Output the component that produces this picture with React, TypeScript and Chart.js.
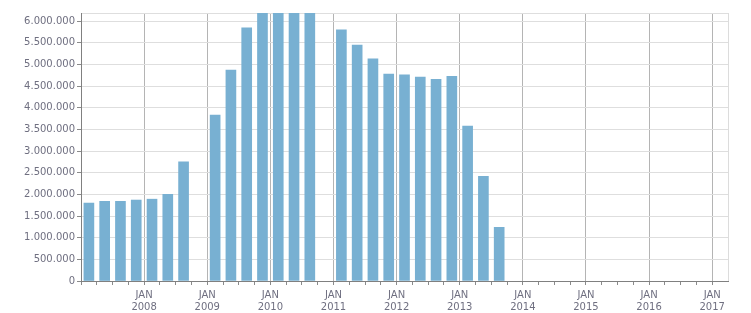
import React, { useEffect, useRef } from "react";
import { Chart, registerables } from "chart.js";

Chart.register(...registerables);

const quarters: string[] = [
  "2007-Q1", "2007-Q2", "2007-Q3", "2007-Q4",
  "2008-Q1", "2008-Q2", "2008-Q3", "2008-Q4",
  "2009-Q1", "2009-Q2", "2009-Q3", "2009-Q4",
  "2010-Q1", "2010-Q2", "2010-Q3", "2010-Q4",
  "2011-Q1", "2011-Q2", "2011-Q3", "2011-Q4",
  "2012-Q1", "2012-Q2", "2012-Q3", "2012-Q4",
  "2013-Q1", "2013-Q2", "2013-Q3",
];

const values: (number | null)[] = [
  1800000, 1840000, 1840000, 1870000,
  1890000, 2000000, 2750000, null,
  3830000, 4870000, 5850000, 6350000,
  6400000, 6400000, 6300000, null,
  5800000, 5450000, 5130000, 4780000,
  4760000, 4710000, 4660000, 4730000,
  3580000, 2420000, 1240000,
];

const yTickValues: number[] = [0, 500000, 1000000, 1500000, 2000000, 2500000, 3000000, 3500000, 4000000, 4500000, 5000000, 5500000, 6000000];
const yMax = 6190000;
const xMin = 2007;
const xMax = 2017.25;
const monthLabel = "JAN";

const fmt = (v: number) => String(Math.round(v)).replace(/\B(?=(\d{3})+(?!\d))/g, ".");

export default function App() {
  const ref = useRef<HTMLCanvasElement | null>(null);
  useEffect(() => {
    if (!ref.current) return;
    const points = quarters.map((q, i) => {
      const [y, qq] = q.split("-Q");
      return { x: Number(y) + (Number(qq) - 1) / 4 + 0.125, y: values[i] };
    });
    const xTicks: { value: number }[] = [];
    for (let v = xMin; v <= xMax + 1e-9; v += 0.25) xTicks.push({ value: v });
    const textColor = "#6f6f80";
    const font = { family: "DejaVu Sans", size: 10 };
    const chart = new Chart(ref.current, {
      type: "bar",
      data: {
        datasets: [
          {
            data: points as any,
            backgroundColor: "rgb(120,176,210)",
            barThickness: 10,
          },
        ],
      },
      options: {
        animation: false,
        responsive: false,
        layout: { padding: { top: 13, right: 23, left: 0, bottom: 0 } },
        plugins: { legend: { display: false }, tooltip: { enabled: false } },
        scales: {
          x: {
            type: "linear",
            min: xMin,
            max: xMax,
            offset: false,
            afterBuildTicks: (scale: any) => {
              scale.ticks = xTicks.map((t) => ({ ...t }));
            },
            afterFit: (scale: any) => {
              scale.height = 32;
            },
            ticks: {
              autoSkip: false,
              maxRotation: 0,
              minRotation: 0,
              padding: 4,
              color: textColor,
              font: { ...font, lineHeight: 1.2 },
              callback: (v: any) => {
                const n = Number(v);
                if (Number.isInteger(n) && n > xMin) return [monthLabel, String(n)];
                return "";
              },
            },
            grid: {
              offset: false,
              color: (ctx: any) => {
                const v = ctx.tick ? ctx.tick.value : 0;
                if (Math.abs(v - xMax) < 1e-6) return "#dcdcdc";
                if (Number.isInteger(v)) return "#b4b4b4";
                return "rgba(0,0,0,0)";
              },
              tickColor: (ctx: any) => {
                const v = ctx.tick ? ctx.tick.value : 0;
                if (Math.abs(v - xMax) < 1e-6) return "rgba(0,0,0,0)";
                return "#8a8a8a";
              },
              tickLength: 4,
              lineWidth: 1,
            },
            border: { display: true, color: "#808080", width: 1 },
          },
          y: {
            min: 0,
            max: yMax,
            afterBuildTicks: (scale: any) => {
              scale.ticks = [...yTickValues.map((v) => ({ value: v })), { value: yMax }];
            },
            afterFit: (scale: any) => {
              scale.width = 81;
            },
            ticks: {
              padding: 2,
              color: textColor,
              font,
              callback: (v: any) => (Number(v) === yMax ? "" : fmt(Number(v))),
            },
            grid: {
              color: "#dedede",
              tickColor: (ctx: any) => (ctx.tick && ctx.tick.value === yMax ? "rgba(0,0,0,0)" : "#8a8a8a"),
              tickLength: 4,
              lineWidth: 1,
            },
            border: { display: true, color: "#808080", width: 1 },
          },
        },
      },
    });
    return () => chart.destroy();
  }, []);
  return (
    <div style={{ position: "fixed", left: 0, top: 0, width: 751, height: 313, background: "#fff" }}>
      <canvas ref={ref} width={751} height={313} style={{ display: "block" }} />
    </div>
  );
}
